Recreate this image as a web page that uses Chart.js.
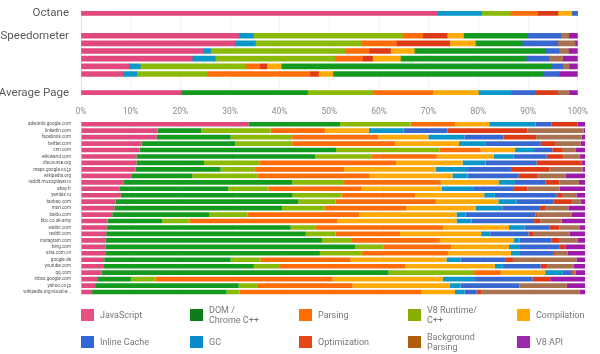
<!DOCTYPE html>
<html>
<head>
<meta charset="utf-8">
<script src="https://cdn.jsdelivr.net/npm/chart.js@4/dist/chart.umd.min.js"></script>
<style>
body { margin: 0; background: #fff; font-family: Roboto, "Noto Sans", sans-serif; }
#wrap { position: relative; width: 600px; height: 354px; overflow: hidden; }
#topChart { position: absolute; left: 0; top: 0; }
#siteChart { position: absolute; left: 0; top: 115px; }
#legend { position: absolute; left: 0; top: 300px; width: 600px; height: 54px; }
.item { position: absolute; height: 24px; display: flex; align-items: center; font-size: 9px; line-height: 10px; color: #777; }
.sw { width: 13px; height: 12px; margin-right: 6px; flex: none; }
</style>
</head>
<body>
<div id="wrap">
  <canvas id="topChart" width="600" height="118"></canvas>
  <canvas id="siteChart" width="600" height="185"></canvas>
  <div id="legend"></div>
</div>
<script>
// categories, in legend order
var categories = ['JavaScript', 'DOM / Chrome C++', 'Parsing', 'V8 Runtime/ C++', 'Compilation',
                  'Inline Cache', 'GC', 'Optimization', 'Background Parsing', 'V8 API'];
var legendLines = [['JavaScript'], ['DOM /', 'Chrome C++'], ['Parsing'], ['V8 Runtime/', 'C++'], ['Compilation'],
                   ['Inline Cache'], ['GC'], ['Optimization'], ['Background', 'Parsing'], ['V8 API']];
var colors = ['#e1487d', '#139a1f', '#ff6c0a', '#8bba06', '#ffab0a',
              '#3867d0', '#0b98c8', '#dc3b16', '#a8714f', '#9c1ba8'];
var legendColors = ['#e8527f', '#0c7d1a', '#ff6d00', '#86ad00', '#ffa600',
                    '#3366d6', '#0a89cc', '#e44816', '#b05e0a', '#9e27b0'];

// stacking order of the segments (index into categories)
var benchOrder = [0, 6, 3, 2, 7, 4, 1, 5, 8, 9];
var siteOrder = [0, 1, 3, 2, 4, 6, 5, 7, 8, 9];

// top block: Octane + 6 Speedometer runs (percent of time)
var benchRows = ['Octane', 'Speedometer', '', '', '', '', ''];
var benchJS      = [71.8, 31.7, 31.0, 24.6, 22.4, 9.6, 8.5];
var benchDOM     = [0, 12.9, 9.4, 26.3, 25.3, 54.4, 42.2];
var benchParsing = [5.5, 4.1, 7.0, 4.8, 5.6, 2.8, 20.8];
var benchRuntime = [5.8, 30.0, 21.4, 27.1, 24.1, 21.3, 14.1];
var benchCompile = [2.8, 3.3, 5.2, 4.8, 5.6, 2.9, 2.9];
var benchIC      = [1.2, 6.7, 7.2, 2.8, 4.6, 2.3, 3.3];
var benchGC      = [8.8, 3.0, 4.1, 1.5, 4.6, 2.3, 2.7];
var benchOpt     = [4.1, 4.9, 10.7, 4.3, 2.0, 1.4, 1.7];
var benchBg      = [0, 1.6, 3.5, 2.0, 2.8, 1.3, 0];
var benchApi     = [0, 1.8, 0.5, 1.8, 3.0, 1.7, 3.8];

// Average Page, one value per category (legend order)
var averagePage = [20.2, 25.4, 12.1, 13.1, 9.2, 4.9, 6.6, 4.4, 2.4, 1.7];

// bottom block: sites
var sites = ['adwords.google.com', 'linkedin.com', 'facebook.com', 'twitter.com', 'cnn.com', 'wikiwand.com',
             'discourse.org', 'maps.google.co.jp', 'wikipedia.org', 'reddit.musicplayer.io', 'ebay.fr', 'yandex.ru',
             'taobao.com', 'msn.com', 'baidu.com', 'bbc.co.uk-amp', 'weibo.com', 'reddit.com', 'instagram.com',
             'bing.com', 'sina.com.cn', 'google.de', 'youtube.com', 'qq.com', 'inbox.google.com', 'yahoo.co.jp',
             'wikipedia.org-visual-e...'];
var siteJS      = [33.2, 15.2, 15.0, 12.0, 11.6, 11.0, 11.0, 10.8, 10.1, 8.4, 7.7, 7.9, 6.9, 6.6, 6.2, 5.3, 5.1, 5.0, 4.9, 4.9, 4.8, 4.6, 4.4, 4.1, 3.2, 2.8, 2.2];
var siteDOM     = [18.2, 8.7, 14.7, 18.6, 39.0, 35.5, 13.4, 16.9, 12.0, 33.5, 21.5, 34.1, 36.2, 33.3, 19.3, 10.8, 36.5, 39.6, 42.9, 49.5, 42.6, 25.1, 29.9, 56.9, 6.7, 28.5, 26.7];
var siteParsing = [8.8, 10.8, 17.1, 20.4, 8.2, 12.9, 27.1, 17.8, 22.3, 19.4, 18.5, 14.6, 19.9, 16.2, 22.2, 29.4, 25.3, 12.8, 17.7, 13.4, 17.1, 17.8, 25.1, 5.5, 35.1, 19.0, 36.1];
var siteRuntime = [14.0, 13.7, 12.2, 11.3, 20.5, 11.2, 11.0, 6.7, 12.9, 10.1, 8.0, 9.7, 7.4, 8.4, 7.5, 5.4, 5.0, 5.9, 5.7, 5.6, 8.3, 5.9, 5.0, 16.8, 4.9, 3.6, 2.6];
var siteCompile = [6.8, 8.7, 9.9, 12.7, 6.8, 11.3, 13.2, 18.2, 16.4, 11.5, 15.9, 13.7, 12.4, 13.8, 19.3, 23.6, 13.0, 16.1, 14.6, 11.5, 12.5, 19.1, 17.7, 8.8, 21.9, 19.3, 6.6];
var siteIC      = [3.1, 8.7, 7.7, 11.0, 3.6, 6.6, 10.1, 8.5, 10.1, 6.1, 7.9, 12.3, 7.3, 7.5, 13.9, 12.4, 4.9, 7.6, 6.4, 7.9, 6.6, 9.0, 7.5, 1.8, 11.6, 11.7, 2.4];
var siteGC      = [9.2, 6.9, 7.2, 5.2, 3.8, 3.9, 4.6, 6.4, 3.0, 3.2, 6.2, 2.1, 3.6, 5.3, 1.8, 3.0, 3.1, 1.8, 1.2, 2.2, 1.8, 2.8, 1.6, 3.5, 6.2, 2.1, 1.9];
var siteOpt     = [5.2, 15.9, 6.5, 3.0, 2.1, 3.3, 8.9, 7.6, 3.7, 2.7, 2.9, 1.2, 3.7, 1.1, 0.3, 1.2, 2.0, 0.9, 1.6, 1.2, 0.5, 1.4, 1.4, 0.2, 3.5, 0, 1.0];
var siteBg      = [0, 11.1, 9.0, 4.9, 2.6, 3.2, 0, 6.6, 5.7, 3.9, 6.4, 2.7, 1.7, 4.5, 6.9, 4.3, 4.1, 7.2, 3.5, 0, 2.3, 12.6, 5.2, 0.5, 0, 9.4, 19.4];
var siteApi     = [1.5, 0.3, 0.7, 0.9, 1.8, 1.1, 0.7, 0.5, 3.8, 1.2, 5.0, 1.7, 0.9, 3.3, 2.6, 4.6, 1.0, 3.1, 1.5, 3.8, 3.5, 1.7, 2.2, 1.9, 6.9, 3.6, 1.1];

var benchSeries = [benchJS, benchDOM, benchParsing, benchRuntime, benchCompile, benchIC, benchGC, benchOpt, benchBg, benchApi];
var siteSeries = [siteJS, siteDOM, siteParsing, siteRuntime, siteCompile, siteIC, siteGC, siteOpt, siteBg, siteApi];

// top chart rows: Octane, gap, 6 speedometer runs, gap, Average Page
var benchSlots = [0, 6, 8, 10, 12, 14, 16];
var avgSlot = 21;
var topLabels = [];
for (var i = 0; i <= avgSlot; i++) topLabels.push('');
benchSlots.forEach(function(s, j) { if (benchRows[j]) topLabels[s] = benchRows[j]; });
topLabels[avgSlot] = 'Average Page';

var topDatasets = [];
benchOrder.forEach(function(c) {
    var data = topLabels.map(function() { return null; });
    benchSlots.forEach(function(s, j) { data[s] = benchSeries[c][j]; });
    topDatasets.push({ label: categories[c], data: data, backgroundColor: colors[c], barThickness: 5 });
});
siteOrder.forEach(function(c) {
    var data = topLabels.map(function() { return null; });
    data[avgSlot] = averagePage[c];
    topDatasets.push({ label: categories[c], data: data, backgroundColor: colors[c], barThickness: 5 });
});

var siteDatasets = siteOrder.map(function(c) {
    return { label: categories[c], data: siteSeries[c], backgroundColor: colors[c],
             categoryPercentage: 1, barPercentage: 0.72 };
});

Chart.defaults.font.family = 'Roboto, "Noto Sans", sans-serif';

new Chart(document.getElementById('topChart'), {
    type: 'bar',
    data: { labels: topLabels, datasets: topDatasets },
    options: {
        indexAxis: 'y',
        responsive: false,
        animation: false,
        layout: { padding: { top: 8, right: 15, bottom: 0, left: 0 } },
        plugins: { legend: { display: false }, tooltip: { enabled: false } },
        scales: {
            x: {
                stacked: true, min: 0, max: 100,
                ticks: { stepSize: 10, color: '#8a8a8a', font: { size: 8.5 }, padding: 12,
                         callback: function(v) { return v + '%'; } },
                grid: { color: '#f3f3f3', drawTicks: false },
                border: { display: false },
                afterFit: function(s) { s.height = 23; }
            },
            y: {
                stacked: true,
                ticks: { autoSkip: false, color: '#5a5a5a', font: { size: 11.5 }, padding: 4 },
                grid: { display: false },
                border: { color: '#e2e2e2' },
                afterFit: function(s) { s.width = 81; }
            }
        }
    }
});

new Chart(document.getElementById('siteChart'), {
    type: 'bar',
    data: { labels: sites, datasets: siteDatasets },
    options: {
        indexAxis: 'y',
        responsive: false,
        animation: false,
        layout: { padding: { top: 6, right: 15, bottom: 4.5, left: 0 } },
        plugins: { legend: { display: false }, tooltip: { enabled: false } },
        scales: {
            x: {
                stacked: true, min: 0, max: 100,
                ticks: { display: false, stepSize: 10 },
                grid: { color: '#f3f3f3', drawTicks: false },
                border: { display: false },
                afterFit: function(s) { s.height = 0; }
            },
            y: {
                stacked: true,
                ticks: { autoSkip: false, color: '#555', font: { size: 4.6 }, padding: 2 },
                grid: { display: false },
                border: { color: '#e2e2e2' },
                afterFit: function(s) { s.width = 81; }
            }
        }
    }
});

// legend, 2 rows x 5 columns
var legend = document.getElementById('legend');
categories.forEach(function(name, i) {
    var item = document.createElement('div');
    item.className = 'item';
    item.style.left = (81 + (i % 5) * 109) + 'px';
    item.style.top = (i < 5 ? 3 : 30) + 'px';
    var sw = document.createElement('div');
    sw.className = 'sw';
    sw.style.background = legendColors[i];
    var txt = document.createElement('div');
    txt.innerHTML = legendLines[i].join('<br>');
    item.appendChild(sw);
    item.appendChild(txt);
    legend.appendChild(item);
});
</script>
</body>
</html>
